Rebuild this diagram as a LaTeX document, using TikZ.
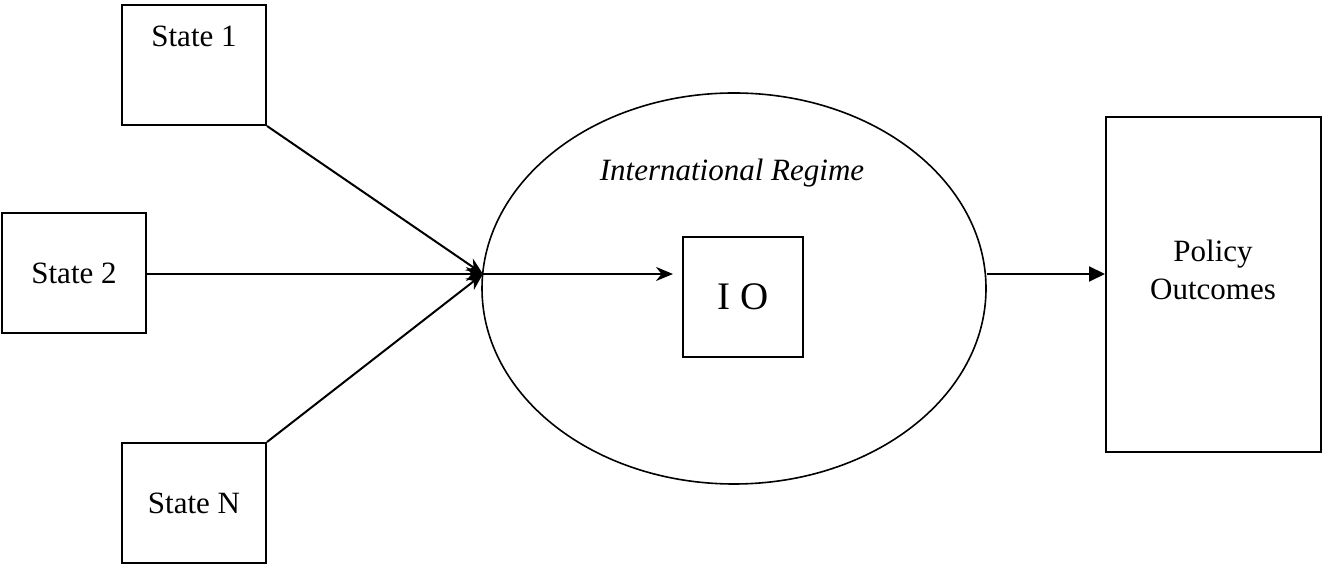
\documentclass[tikz,border=0pt]{standalone}
\usepackage{fontspec}
\setmainfont{Liberation Serif}
\usepackage{tikz}
\usetikzlibrary{positioning}
\usetikzlibrary{shapes.geometric}
\usetikzlibrary{arrows.meta}

\begin{document}
\begin{tikzpicture}[
		x=0.5pt,y=-0.5pt,
		statebox/.style={draw,line width=1pt,minimum width=72pt,minimum height=60pt,inner sep=0pt},
		every node/.style={font=\fontsize{15.5}{19}\selectfont},
		feed/.style={line width=1pt,-{Stealth[length=8.5pt,width=7pt]}}
		]
		\useasboundingbox (0,0) rectangle (1322,565);
		% states
		\node[statebox] (s1) at (194,65) {};
		\node (s1txt) at (194,36) {State 1};
		\node[statebox] (s2) at (74,273) {State 2};
		\node[statebox] (sN) at (194,503) {State N};
		% regime
		\node[draw,ellipse,line width=0.8pt,minimum width=252pt,minimum height=195.5pt,inner sep=0pt] (reg) at (734,288.5) {};
		\node (regtxt) at (732,173) {\itshape International Regime};
		\node[draw,line width=0.9pt,minimum size=60pt,inner sep=0pt,font=\fontsize{19.5}{23}\selectfont] (io) at (743,297) {I O};
		% outcomes
		\node[draw,line width=1pt,minimum width=107.5pt,minimum height=167.5pt,inner sep=0pt] (pol) at (1213.5,284.5) {};
		\node[align=center] (poltxt) at (1213,270) {Policy\\Outcomes};
		\coordinate (ent) at (483,274);
		\coordinate (ioin) at (673,274);
		\draw[feed] (s1.south east) -- (ent);
		\draw[feed] (s2.east |- ent) -- (ent);
		\draw[feed] (sN.north east) -- (ent);
		\draw[feed] (ent) -- (ioin);
		\draw[line width=1pt,-{Triangle[length=8pt,width=7.5pt]}] (reg.east |- ent) -- (pol.west |- ent);
	\end{tikzpicture}
\end{document}
